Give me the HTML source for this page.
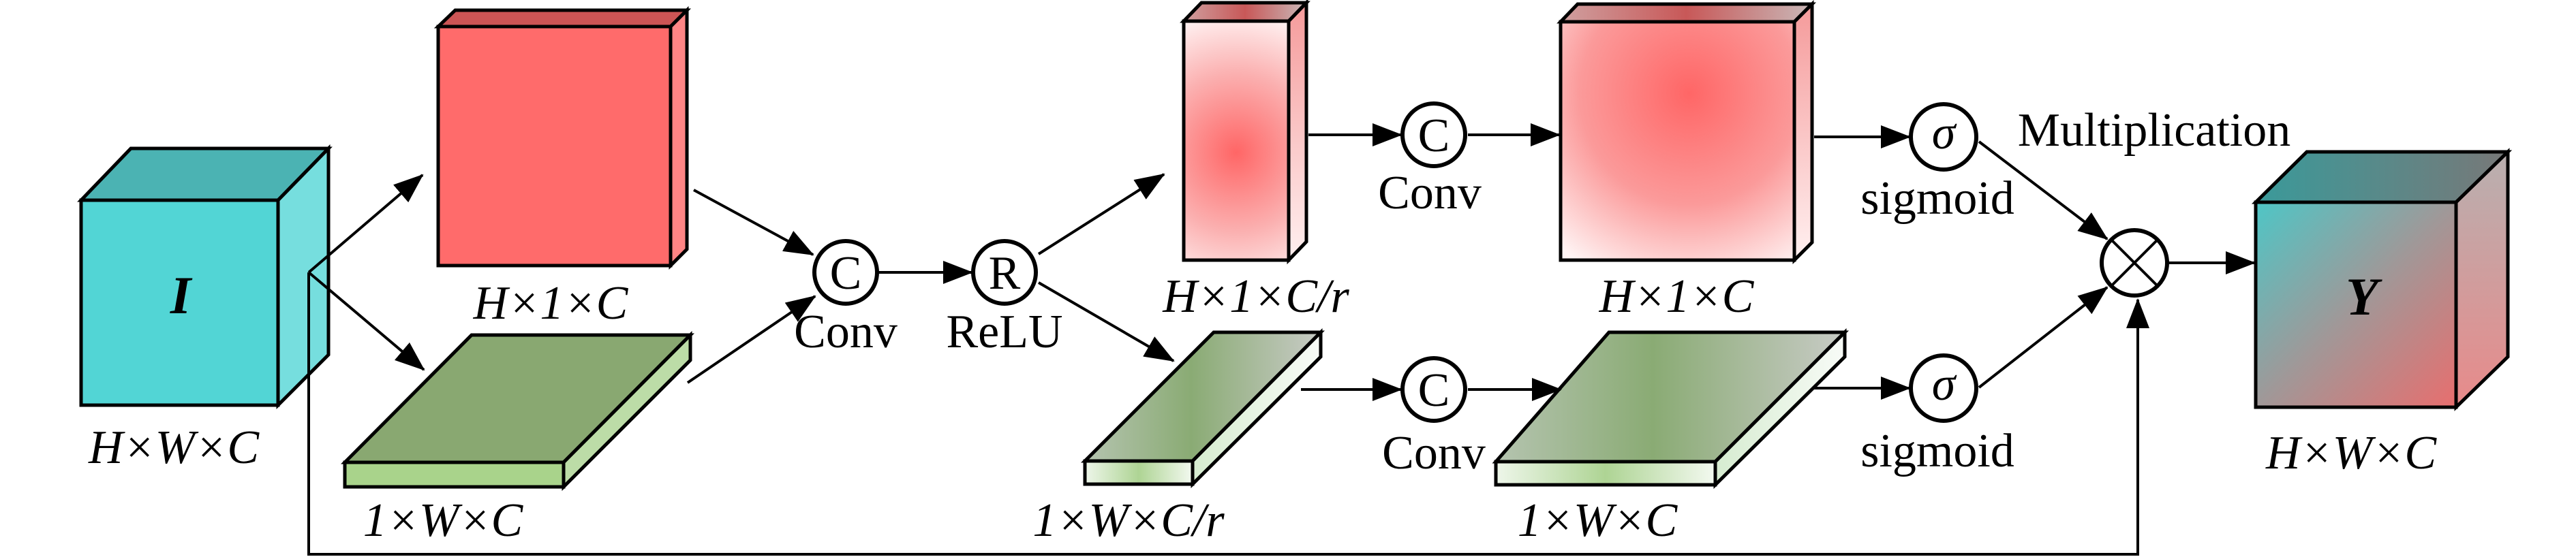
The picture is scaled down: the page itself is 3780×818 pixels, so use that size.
<!DOCTYPE html>
<html><head><meta charset="utf-8"><style>html,body{margin:0;padding:0;background:#fff}svg{display:block}text{font-family:"Liberation Serif","DejaVu Serif",serif}</style></head>
<body>
<svg width="3780" height="818" viewBox="0 0 3780 818" xmlns="http://www.w3.org/2000/svg">
<defs>
<marker id="ah" markerUnits="userSpaceOnUse" markerWidth="44" markerHeight="34" refX="42" refY="17" orient="auto">
<path d="M0,0 L44,17 L0,34 Z" fill="#000"/></marker>
<radialGradient id="rt" cx="0.5" cy="0.55" r="0.6" gradientTransform="translate(0.5,0.55) scale(2.2,1) translate(-0.5,-0.55)"><stop offset="0" stop-color="#ff6666"/><stop offset="0.55" stop-color="#fbb0b0"/><stop offset="1" stop-color="#fff4f4"/></radialGradient>
<radialGradient id="rb" cx="0.55" cy="0.3" r="0.85"><stop offset="0" stop-color="#ff6666"/><stop offset="0.55" stop-color="#fb9a9a"/><stop offset="1" stop-color="#fff4f4"/></radialGradient>
<linearGradient id="rs" x1="0" y1="0" x2="0" y2="1"><stop offset="0" stop-color="#f59a9a"/><stop offset="1" stop-color="#fff0f0"/></linearGradient>
<linearGradient id="rtop" x1="0" y1="0" x2="1" y2="0"><stop offset="0" stop-color="#cfa0a0"/><stop offset="0.5" stop-color="#c85858"/><stop offset="1" stop-color="#c9b8b8"/></linearGradient>
<linearGradient id="gt" x1="0" y1="0" x2="1" y2="0"><stop offset="0" stop-color="#b5c4b0"/><stop offset="0.45" stop-color="#8aab74"/><stop offset="1" stop-color="#c8cbc6"/></linearGradient>
<linearGradient id="gf" x1="0" y1="0" x2="1" y2="0"><stop offset="0" stop-color="#eef6ea"/><stop offset="0.5" stop-color="#aed494"/><stop offset="1" stop-color="#f3f9f0"/></linearGradient>
<linearGradient id="gs" x1="0" y1="0" x2="1" y2="0"><stop offset="0" stop-color="#d6ecd0"/><stop offset="1" stop-color="#f8fbf7"/></linearGradient>
<linearGradient id="yf" x1="0" y1="0" x2="1" y2="1"><stop offset="0" stop-color="#4ec6c6"/><stop offset="0.5" stop-color="#a09898"/><stop offset="1" stop-color="#e86e6e"/></linearGradient>
<linearGradient id="yt" x1="0" y1="0" x2="1" y2="0"><stop offset="0" stop-color="#3a9a9a"/><stop offset="1" stop-color="#787878"/></linearGradient>
<linearGradient id="ys" x1="0" y1="0" x2="0" y2="1"><stop offset="0" stop-color="#b8b0b0"/><stop offset="1" stop-color="#e88a8a"/></linearGradient>
</defs>
<g stroke="#000" stroke-width="5" stroke-linejoin="miter">
<polygon points="119,294 192,218 482,218 408,294" fill="#4bb3b3"/>
<polygon points="408,294 482,218 482,521 408,595" fill="#76dede"/>
<rect x="119" y="294" width="289" height="301" fill="#52d5d5"/>
<polygon points="643,39 668,15 1008,15 984,39" fill="#cc5555"/>
<polygon points="984,39 1008,15 1008,366 984,390" fill="#ff8585"/>
<rect x="643" y="39" width="341" height="351" fill="#ff6b6b"/>
<polygon points="692,492 1013,492 827,679 506,679" fill="#89a871"/>
<polygon points="827,679 1013,492 1013,529 827,715" fill="#bcdca7"/>
<rect x="506" y="679" width="321" height="36" fill="#a9d38b"/>
<polygon points="1737,31 1763,4 1917,4 1891,31" fill="url(#rtop)"/>
<polygon points="1891,31 1917,4 1917,355 1891,382" fill="url(#rs)"/>
<rect x="1737" y="31" width="154" height="351" fill="url(#rt)"/>
<polygon points="1781,488 1938,488 1750,677 1592,677" fill="url(#gt)"/>
<polygon points="1750,677 1938,488 1938,524 1750,711" fill="url(#gs)"/>
<rect x="1592" y="677" width="158" height="34" fill="url(#gf)"/>
<polygon points="2290,32 2315,6 2659,6 2633,32" fill="url(#rtop)"/>
<polygon points="2633,32 2659,6 2659,356 2633,382" fill="url(#rs)"/>
<rect x="2290" y="32" width="343" height="350" fill="url(#rb)"/>
<polygon points="2361,488 2707,488 2517,678 2195,678" fill="url(#gt)"/>
<polygon points="2517,678 2707,488 2707,524 2517,712" fill="url(#gs)"/>
<rect x="2195" y="678" width="322" height="34" fill="url(#gf)"/>
<polygon points="3310,297 3385,223 3680,223 3604,297" fill="url(#yt)"/>
<polygon points="3604,297 3680,223 3680,524 3604,598" fill="url(#ys)"/>
<rect x="3310" y="297" width="294" height="301" fill="url(#yf)"/>
</g>
<g stroke="#000" stroke-width="4" fill="none">
<polyline points="453,400 620,257" marker-end="url(#ah)"/>
<polyline points="453,400 622,543" marker-end="url(#ah)"/>
<polyline points="453,400 453,814 3137,814 3137,440" marker-end="url(#ah)"/>
<line x1="1018" y1="279" x2="1193" y2="374" marker-end="url(#ah)"/>
<line x1="1009" y1="562" x2="1196" y2="435" marker-end="url(#ah)"/>
<line x1="1289" y1="400" x2="1426" y2="400" marker-end="url(#ah)"/>
<line x1="1524" y1="373" x2="1708" y2="256" marker-end="url(#ah)"/>
<line x1="1524" y1="415" x2="1722" y2="530" marker-end="url(#ah)"/>
<line x1="1920" y1="198" x2="2056" y2="198" marker-end="url(#ah)"/>
<line x1="2154" y1="198" x2="2288" y2="198" marker-end="url(#ah)"/>
<line x1="1909" y1="572" x2="2056" y2="572" marker-end="url(#ah)"/>
<line x1="2154" y1="572" x2="2290" y2="572" marker-end="url(#ah)"/>
<line x1="2662" y1="201" x2="2802" y2="201" marker-end="url(#ah)"/>
<line x1="2662" y1="570" x2="2802" y2="570" marker-end="url(#ah)"/>
<line x1="2904" y1="208" x2="3092" y2="351" marker-end="url(#ah)"/>
<line x1="2904" y1="569" x2="3092" y2="422" marker-end="url(#ah)"/>
<line x1="3182" y1="386" x2="3308" y2="386" marker-end="url(#ah)"/>
</g>
<g stroke="#000" stroke-width="6" fill="#fff">
<circle cx="1241" cy="400" r="46"/>
<circle cx="1474" cy="400" r="46"/>
<circle cx="2104" cy="198" r="46"/>
<circle cx="2104" cy="572" r="46"/>
<circle cx="2852" cy="201" r="48"/>
<circle cx="2852" cy="570" r="48"/>
<circle cx="3132" cy="386" r="48"/>
</g>
<g stroke="#000" stroke-width="4">
<line x1="3098" y1="352" x2="3166" y2="420"/><line x1="3166" y1="352" x2="3098" y2="420"/>
</g>
<g font-size="70" text-anchor="middle" fill="#000">
<text x="1241" y="424">C</text>
<text x="1474" y="424">R</text>
<text x="2104" y="222">C</text>
<text x="2104" y="596">C</text>
<text x="2852" y="218" font-style="italic">σ</text>
<text x="2852" y="587" font-style="italic">σ</text>
<text x="1241" y="510">Conv</text>
<text x="1474" y="510">ReLU</text>
<text x="2098" y="306">Conv</text>
<text x="2104" y="688">Conv</text>
<text x="2843" y="314">sigmoid</text>
<text x="2843" y="685">sigmoid</text>
<text x="3161" y="214">Multiplication</text>
<text x="265" y="460" font-style="italic" font-weight="bold" font-size="78">I</text>
<text x="3466" y="462" font-style="italic" font-weight="bold" font-size="78">Y</text>
<g font-style="italic">
<text x="255" y="680">H×W×C</text>
<text x="808" y="468">H×1×C</text>
<text x="650" y="787">1×W×C</text>
<text x="1843" y="458">H×1×C/r</text>
<text x="1656" y="787">1×W×C/r</text>
<text x="2460" y="458">H×1×C</text>
<text x="2344" y="787">1×W×C</text>
<text x="3450" y="688">H×W×C</text>
</g>
</g>
</svg>
</body></html>
